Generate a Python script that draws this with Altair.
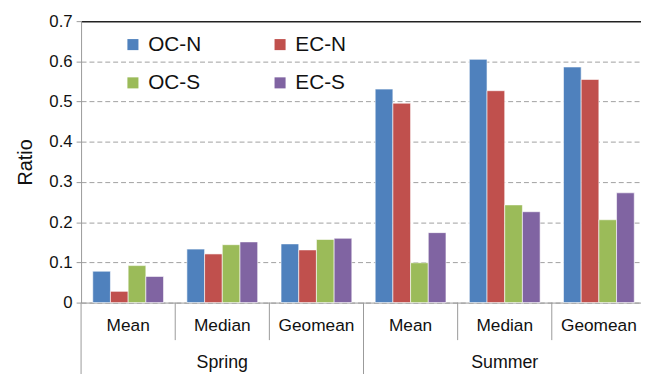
import altair as alt
import pandas as pd

seasons = ["Spring", "Spring", "Spring", "Summer", "Summer", "Summer"]
stats = ["Mean", "Median", "Geomean", "Mean", "Median", "Geomean"]
series = ["OC-N", "EC-N", "OC-S", "EC-S"]
colors = ["#4F81BD", "#C0504D", "#9BBB59", "#8064A2"]

oc_n = [0.078, 0.133, 0.146, 0.531, 0.605, 0.586]
ec_n = [0.028, 0.121, 0.131, 0.496, 0.527, 0.555]
oc_s = [0.092, 0.144, 0.157, 0.099, 0.243, 0.206]
ec_s = [0.065, 0.151, 0.160, 0.174, 0.226, 0.273]

y_ticks = [0, 0.1, 0.2, 0.3, 0.4, 0.5, 0.6, 0.7]

keys = [f"{s}|{t}" for s, t in zip(seasons, stats)]
rows = []
for name, vals in zip(series, [oc_n, ec_n, oc_s, ec_s]):
    for k, v in zip(keys, vals):
        rows.append({"group": k, "series": name, "value": v})
df = pd.DataFrame(rows)

sep = pd.DataFrame({"group": keys,
                    "long": [k.endswith("|Mean") for k in keys]})
season_names = ["Spring", "Summer"]
season_df = pd.DataFrame({"group": [f"{s}|Median" for s in season_names],
                          "label": season_names})

W, H = 567, 285
XR = 572  # band range runs slightly past the visible right edge, as in the original
FONT = "Liberation Sans"

xscale = alt.Scale(domain=keys, paddingInner=0, paddingOuter=0, range=[0, XR])

bars = alt.Chart(df).mark_bar(stroke="white", strokeWidth=0.6).encode(
    x=alt.X("group:N", scale=xscale, sort=keys, title=None,
            axis=alt.Axis(labelExpr="split(datum.label, '|')[1]", ticks=False,
                          labelFontSize=17.5, labelPadding=14, labelColor="#111",
                          labelFont=FONT, domainColor="#999", labelAngle=0)),
    xOffset=alt.XOffset("series:N", sort=series,
                        scale=alt.Scale(paddingInner=0, paddingOuter=0.66)),
    y=alt.Y("value:Q", scale=alt.Scale(domain=[0, 0.7], nice=False),
            title="Ratio",
            axis=alt.Axis(values=y_ticks, format=".1~f", labelFontSize=17,
                          labelFont=FONT, labelColor="#111", labelPadding=4,
                          titleFont=FONT, titleFontSize=20, titleFontWeight="normal",
                          titleColor="#111", titlePadding=14,
                          tickSize=5, tickColor="#999", domainColor="#999",
                          grid=True,
                          gridColor={"condition": {"test": "datum.value >= 0.69", "value": "#222"}, "value": "#a0a0a0"},
                          gridDash={"condition": {"test": "datum.value >= 0.69", "value": []}, "value": [5, 3]},
                          gridWidth={"condition": {"test": "datum.value >= 0.69", "value": 1.5}, "value": 1})),
    color=alt.Color("series:N", sort=series,
                    scale=alt.Scale(domain=series, range=colors),
                    legend=alt.Legend(title=None, orient="none", legendX=42, legendY=13,
                                      direction="horizontal",
                                      columns=2, columnPadding=69, rowPadding=17,
                                      symbolType="square", symbolSize=125,
                                      symbolStrokeWidth=0, labelFontSize=21,
                                      labelFont=FONT, labelColor="#111",
                                      labelOffset=5, padding=0)),
)

short_sep = alt.Chart(sep).transform_filter("!datum.long").mark_rule(
    color="#999", strokeWidth=1).encode(
    x=alt.X("group:N", scale=xscale, sort=keys, bandPosition=0),
    y=alt.value(H), y2=alt.value(H + 38))

long_sep = alt.Chart(sep).transform_filter("datum.long").mark_rule(
    color="#999", strokeWidth=1).encode(
    x=alt.X("group:N", scale=xscale, sort=keys, bandPosition=0),
    y=alt.value(H), y2=alt.value(H + 80))

season_text = alt.Chart(season_df).mark_text(
    fontSize=18, font=FONT, color="#111", baseline="middle").encode(
    x=alt.X("group:N", scale=xscale, sort=keys),
    y=alt.value(H + 61),
    text="label:N")

chart = alt.layer(bars, short_sep, long_sep, season_text).properties(
    width=W, height=H,
    autosize=alt.AutoSizeParams(type="none"),
    padding={"left": 74, "top": 11, "right": 0, "bottom": 70},
).configure_view(stroke=None)

chart.save("out.html", embed_options={"renderer": "svg", "actions": False})
